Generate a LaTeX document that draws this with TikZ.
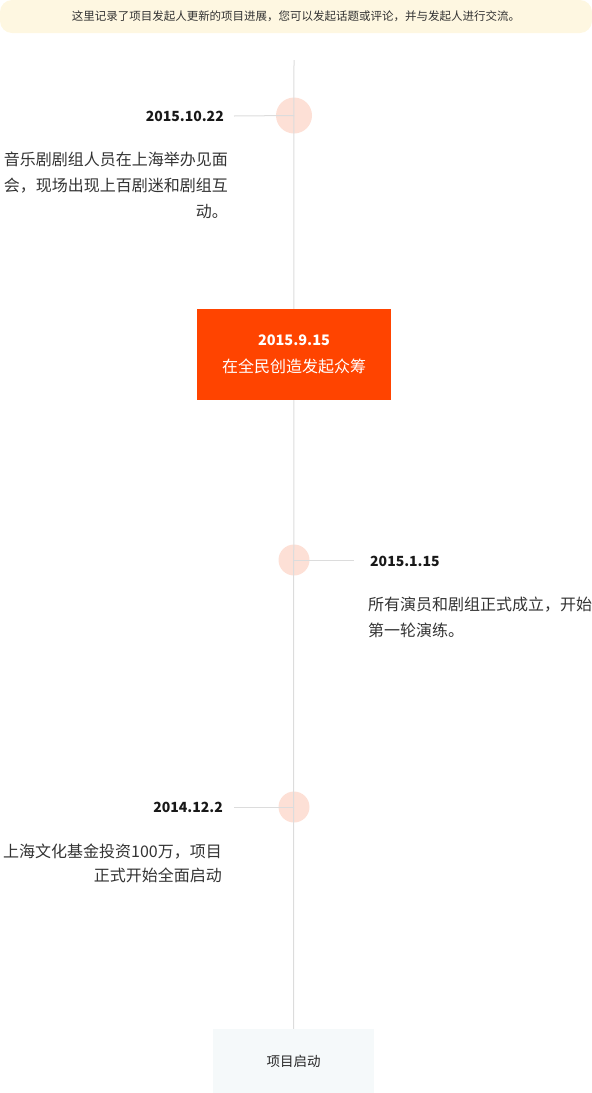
\documentclass[tikz,border=0pt]{standalone}
\usepackage{fontspec}
\setmainfont{Noto Sans CJK SC}
\usetikzlibrary{positioning}
\definecolor{bannerbg}{HTML}{FEF7E1}
\definecolor{dotpink}{HTML}{FDE0D6}
\definecolor{linegray}{HTML}{DCDCDC}
\definecolor{fundorange}{HTML}{FF4400}
\definecolor{startbg}{HTML}{F5F9FA}
\definecolor{inkgray}{HTML}{333333}

\begin{document}
\begin{tikzpicture}[x=1pt, y=-1pt,
  dot/.style = {circle, fill=dotpink, inner sep=0pt},
  date/.style = {font=\bfseries\fontsize{14}{16}\selectfont, text=black!90, inner sep=0pt},
  note/.style = {font=\fontsize{16}{26}\selectfont, text=inkgray, inner sep=0pt},
  tick/.style = {draw=linegray, line width=1pt}]
\useasboundingbox (0,0) rectangle (592,1093);
% banner
\node[fill=bannerbg, rounded corners=12pt, minimum width=592pt, minimum height=33pt,
  font=\fontsize{11.5}{14}\selectfont, text=inkgray] (banner) at (296,16.5)
  {这里记录了项目发起人更新的项目进展，您可以发起话题或评论，并与发起人进行交流。};
% dots
\node[dot, minimum size=36pt] (d1) at (294,115.5) {};
\node[dot, minimum size=31pt] (d2) at (294,560) {};
\node[dot, minimum size=31pt] (d3) at (294,807) {};
% timeline
\coordinate (top) at (294,60);
\node[fill=startbg, minimum width=161pt, minimum height=64pt,
  font=\fontsize{13.5}{16}\selectfont, text=black!85] (start) at (293.5,1061) {项目启动};
\draw[tick] (top) -- (start.north);
\coordinate (t1) at (234,116);
\coordinate (t2) at (354,560);
\coordinate (t3) at (234,807);
\draw[tick] (d1.center) -- (t1);
\draw[tick] (d2.center) -- (t2);
\draw[tick] (d3.center) -- (t3);
% entries
\node[date, anchor=east] (date1) at (224,116) {2015.10.22};
\node[note, align=right, anchor=base east] (note1) at (228,217)
  {音乐剧剧组人员在上海举办见面\\会，现场出现上百剧迷和剧组互\\动。};
\node[fill=fundorange, minimum width=194pt, minimum height=91pt, text=white,
  align=center, font=\fontsize{16}{27}\selectfont] (fund) at (294,354.5)
  {{\bfseries\fontsize{14.5}{16}\selectfont 2015.9.15}\\在全民创造发起众筹};
\node[date, anchor=west] (date2) at (370,561) {2015.1.15};
\node[note, align=left, anchor=base west] (note2) at (368,636)
  {所有演员和剧组正式成立，开始\\第一轮演练。};
\node[date, anchor=east] (date3) at (223,807) {2014.12.2};
\node[note, align=right, anchor=base east, font=\fontsize{16}{24}\selectfont] (note3) at (222,881)
  {上海文化基金投资100万，项目\\正式开始全面启动};
\end{tikzpicture}
\end{document}
